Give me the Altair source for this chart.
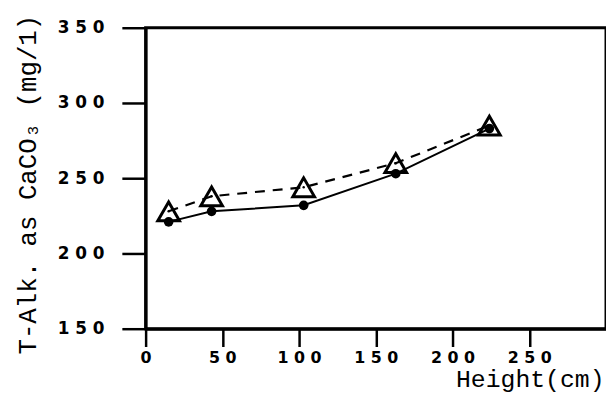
import altair as alt
import pandas as pd

heights = [15, 43, 103, 163, 224]
tri_vals = [228, 238, 244, 260, 285]
circ_vals = [221, 228, 232, 253, 283]
x_ticks = [0, 50, 100, 150, 200, 250]
y_ticks = [150, 200, 250, 300, 350]

df = pd.DataFrame({"h": heights, "tri": tri_vals, "circ": circ_vals})

label_expr = "join(split(datum.label, ''), ' ')"

x_axis = alt.Axis(
    values=x_ticks, title="Height(cm)", grid=False,
    tickSize=18, tickWidth=2.5, tickColor="black",
    domainWidth=3, domainColor="black",
    labelFont="DejaVu Sans", labelFontWeight="bold", labelFontSize=16,
    labelColor="black", labelPadding=3, labelExpr=label_expr,
    labelFlush=False, labelOverlap=False,
    titleFont="Liberation Mono", titleFontSize=25, titleFontWeight="normal",
    titleColor="black", titleX=463, titleY=58, titleAlign="right",
    titleBaseline="alphabetic",
)
y_axis = alt.Axis(
    values=y_ticks, title="T-Alk. as CaCO\u2083 (mg/1)", grid=False,
    tickSize=24, tickWidth=2.5, tickColor="black",
    domainWidth=3, domainColor="black",
    labelFont="DejaVu Sans", labelFontWeight="bold", labelFontSize=17,
    labelColor="black", labelPadding=18, labelExpr=label_expr,
    labelFlush=False, labelOverlap=False,
    titleFont="Liberation Mono", titleFontSize=26, titleFontWeight="normal",
    titleColor="black", titleAngle=270, titleX=-119, titleY=158,
    titleAlign="center", titleBaseline="middle",
)

x = alt.X("h:Q", scale=alt.Scale(domain=[0, 300], nice=False, zero=False), axis=x_axis)

def ycol(field):
    return alt.Y(f"{field}:Q", scale=alt.Scale(domain=[150, 350], nice=False, zero=False),
                 axis=y_axis, title="T-Alk. as CaCO\u2083 (mg/1)")

base = alt.Chart(df)
solid = base.mark_line(color="black", strokeWidth=2).encode(x=x, y=ycol("circ"))
circles = base.mark_point(shape="circle", filled=True, size=95, color="black", opacity=1).encode(x=x, y=ycol("circ"))
dashed = base.mark_line(color="black", strokeWidth=2.2, strokeDash=[10, 8]).encode(x=x, y=ycol("tri"))
tris = base.mark_point(shape="triangle-up", filled=False, size=480, strokeWidth=3, color="black", opacity=1).encode(x=x, y=ycol("tri"))
dots = base.mark_point(shape="circle", filled=True, size=6, color="black", opacity=1).encode(x=x, y=ycol("tri"))

chart = alt.layer(solid, circles, dashed, tris, dots).properties(
    width=465, height=304,
    padding={"left": 139, "top": 18, "right": 0, "bottom": 62},
    autosize=alt.AutoSizeParams(type="none"),
    background="white",
).configure_view(stroke="black", strokeWidth=3)

chart.save("out.html", embed_options={"renderer": "svg", "actions": False})
